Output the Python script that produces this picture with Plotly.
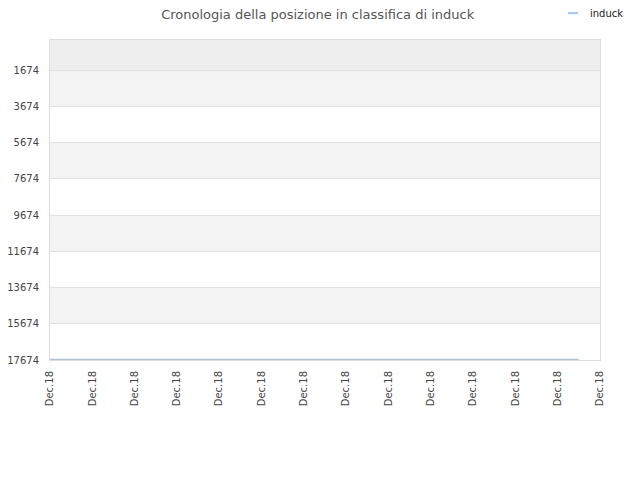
import datetime as dt
import plotly.graph_objects as go

# dati
giorni = [dt.date(2018, 12, d) for d in range(1, 27)]
posizioni = [17640] * len(giorni)
tick_giorni = [dt.date(2018, 12, 1) + dt.timedelta(days=2 * i) for i in range(14)]
tick_testo = ["Dec.18"] * len(tick_giorni)
y_ticks = [1674, 3674, 5674, 7674, 9674, 11674, 13674, 15674, 17674]
y_testo = [str(v) for v in y_ticks]
bande = [(0, 1674, "#eeeeee"), (1674, 3674, "#f3f3f3"), (5674, 7674, "#f3f3f3"),
         (9674, 11674, "#f3f3f3"), (13674, 15674, "#f3f3f3")]
serie = "induck"
colore = "#99c8f0"

fig = go.Figure()
fig.add_trace(go.Scatter(x=giorni, y=posizioni, mode="lines", name=serie,
                         line=dict(color=colore, width=1.5), showlegend=False))

for y0, y1, col in bande:
    fig.add_shape(type="rect", xref="paper", yref="y", x0=0, x1=1, y0=y0, y1=y1,
                  fillcolor=col, line_width=0, layer="below")

# legenda disegnata a mano in alto a destra
fig.add_shape(type="line", xref="paper", yref="paper", x0=0.9418, x1=0.96,
              y0=1.084, y1=1.084, line=dict(color=colore, width=2))
fig.add_annotation(text=serie, xref="paper", yref="paper", x=0.978, y=1.084,
                   xanchor="left", yanchor="middle", showarrow=False,
                   font=dict(size=10, color="#222"))

# la pagina ha un margine di 8px: figura 632x472
fig.update_layout(
    width=632, height=472,
    margin=dict(l=42, r=40, t=32, b=120),
    paper_bgcolor="white", plot_bgcolor="white",
    font=dict(family="DejaVu Sans", size=10, color="#444"),
    title=dict(text="Cronologia della posizione in classifica di induck",
               x=0.49, xanchor="center", y=0.995, yanchor="top",
               font=dict(size=13, color="#555")),
    showlegend=False,
    xaxis=dict(range=[tick_giorni[0], tick_giorni[-1]], tickvals=tick_giorni,
               ticktext=tick_testo, tickangle=-90, showgrid=False,
               showline=True, linecolor="#dddddd", mirror=True,
               ticks="outside", ticklen=6, tickcolor="rgba(0,0,0,0)",
               zeroline=False, automargin=False, tickfont=dict(size=10)),
    yaxis=dict(range=[17674, 0], tickvals=y_ticks, ticktext=y_testo,
               showgrid=True, gridcolor="#e2e2e2", showline=True,
               linecolor="#dddddd", mirror=True, ticks="outside", ticklen=8,
               tickcolor="rgba(0,0,0,0)", zeroline=False, automargin=False,
               tickfont=dict(size=10)),
)

fig.write_html("out.html")
